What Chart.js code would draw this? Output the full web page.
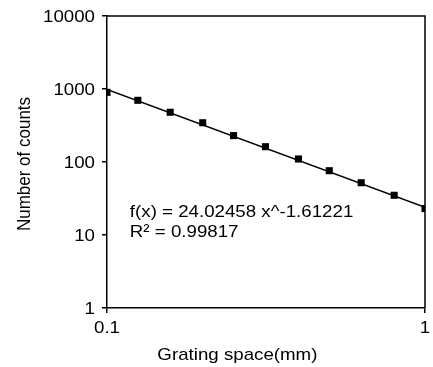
<!DOCTYPE html>
<html>
<head>
<meta charset="utf-8">
<script src="https://cdn.jsdelivr.net/npm/chart.js@4.4.1/dist/chart.umd.min.js"></script>
<style>
html,body{margin:0;padding:0;background:#fff;}
#wrap{width:433px;height:367px;position:relative;}
</style>
</head>
<body>
<div id="wrap"><canvas id="c" width="433" height="367"></canvas></div>
<script>
// Data
const gratingSpace = [0.1, 0.125, 0.158, 0.2, 0.25, 0.315, 0.4, 0.5, 0.63, 0.8, 1.0];
const counts = [900, 700, 480, 345, 230, 162, 110, 76, 52, 35, 23];
// Power-law fit shown on the chart: f(x) = A * x^B
const fitA = 24.02458;
const fitB = -1.61221;
const fitRangeX = [0.1, 1];
const yTicks = [1, 10, 100, 1000, 10000];
const xTicks = [0.1, 1];
const fitLabel = ['f(x) = 24.02458 x^-1.61221', 'R\u00b2 = 0.99817'];
const fitLabelAt = {x: 0.118, y: 20.6};
const xTitle = 'Grating space(mm)';
const yTitle = 'Number of counts';

const FONT = 'Liberation Sans, Arial, sans-serif';
const FONT_PX = 17;
const STRETCH = 1.1; // reference text is horizontally widened

const pts = gratingSpace.map((x, i) => ({x, y: counts[i]}));
const fitPts = fitRangeX.map(x => ({x, y: fitA * Math.pow(x, fitB)}));

function wideText(ctx, text, x, y, align) {
  ctx.save();
  ctx.translate(x, y);
  ctx.scale(STRETCH, 1);
  ctx.textAlign = align;
  ctx.textBaseline = 'middle';
  ctx.fillText(text, 0, 0);
  ctx.restore();
}

const texts = {
  id: 'texts',
  afterDraw(chart) {
    const {ctx, chartArea: a} = chart;
    const xs = chart.scales.x, ys = chart.scales.y;
    ctx.save();
    // top and right frame lines
    ctx.strokeStyle = '#000';
    ctx.lineWidth = 1.5;
    ctx.beginPath();
    ctx.moveTo(a.left, a.top); ctx.lineTo(a.right, a.top); ctx.lineTo(a.right, a.bottom);
    ctx.stroke();

    ctx.fillStyle = '#000';
    ctx.font = FONT_PX + 'px ' + FONT;
    // y tick labels
    yTicks.forEach(v => wideText(ctx, String(v), a.left - 12, ys.getPixelForValue(v) + 1, 'right'));
    // x tick labels
    xTicks.forEach(v => wideText(ctx, String(v), xs.getPixelForValue(v), a.bottom + 20, 'center'));
    // fit annotation
    const px = xs.getPixelForValue(fitLabelAt.x);
    const py = ys.getPixelForValue(fitLabelAt.y);
    fitLabel.forEach((t, i) => wideText(ctx, t, px, py + i * 20, 'left'));
    // x axis title (sits left of centre in the reference)
    wideText(ctx, xTitle, a.left + (a.right - a.left) * 0.41, chart.height - 12, 'center');
    // y axis title, rotated
    ctx.save();
    ctx.translate(25, (a.top + a.bottom) / 2 + 2);
    ctx.scale(STRETCH, 1);
    ctx.rotate(-Math.PI / 2);
    ctx.textAlign = 'center';
    ctx.textBaseline = 'middle';
    ctx.fillText(yTitle, 0, 0);
    ctx.restore();
    ctx.restore();
  }
};

new Chart(document.getElementById('c'), {
  type: 'scatter',
  data: {
    datasets: [
      {
        label: 'fit',
        data: fitPts,
        showLine: true,
        borderColor: '#000',
        borderWidth: 1.5,
        pointRadius: 0,
        fill: false
      },
      {
        label: 'counts',
        data: pts,
        showLine: false,
        pointStyle: 'rect',
        pointRadius: 5,
        pointBackgroundColor: '#000',
        pointBorderColor: '#000',
        pointBorderWidth: 0
      }
    ]
  },
  options: {
    responsive: false,
    animation: false,
    events: [],
    layout: {padding: {left: 0, right: 8, top: 16, bottom: 0}},
    plugins: {legend: {display: false}, tooltip: {enabled: false}},
    scales: {
      x: {
        type: 'logarithmic',
        min: 0.1, max: 1,
        afterBuildTicks: s => { s.ticks = xTicks.map(v => ({value: v})); },
        afterFit: s => { s.height = 59; },
        ticks: {display: false, autoSkip: false},
        grid: {drawOnChartArea: false, drawTicks: true, tickLength: 5, color: '#000', lineWidth: 1.5},
        border: {color: '#000', width: 1.5},
        title: {display: false}
      },
      y: {
        type: 'logarithmic',
        min: 1, max: 10000,
        afterBuildTicks: s => { s.ticks = yTicks.map(v => ({value: v})); },
        afterFit: s => { s.width = 107; },
        ticks: {display: false, autoSkip: false},
        grid: {drawOnChartArea: false, drawTicks: true, tickLength: 5, color: '#000', lineWidth: 1.5},
        border: {color: '#000', width: 1.5},
        title: {display: false}
      }
    }
  },
  plugins: [texts]
});
</script>
</body>
</html>
